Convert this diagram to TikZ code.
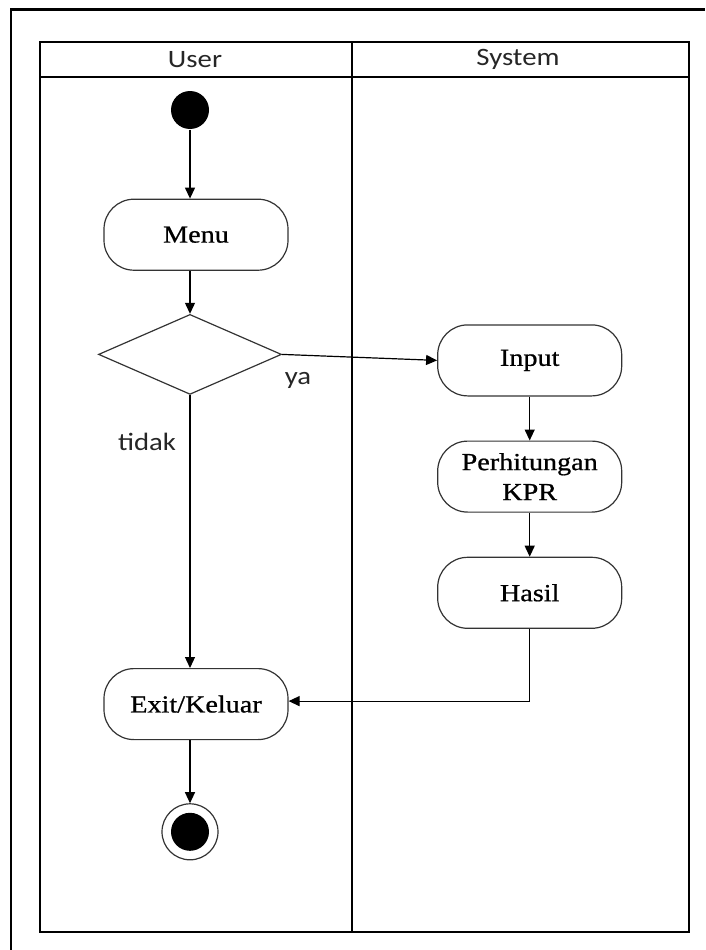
\documentclass[tikz,border=0pt]{standalone}
\usepackage{fontspec}
\setmainfont[FakeStretch=1.15,FakeBold=0.8]{Liberation Serif}
\newfontfamily\lanefont[FakeStretch=1.15]{Carlito}
\usepackage{tikz}
\usetikzlibrary{arrows.meta,positioning,shapes.geometric}

\begin{document}
\begin{tikzpicture}[x=1pt,y=-1pt,>={Triangle[length=11pt,width=10pt]},line width=1.2pt,
    act/.style={draw=black!80,rounded corners=30pt,minimum width=184pt,minimum height=71pt,align=center,font=\fontsize{24.5}{30}\selectfont},
    cond/.style={draw=black!80,diamond,minimum width=183pt,minimum height=80pt,inner sep=0pt},
    lane/.style={font=\lanefont\fontsize{25}{30}\selectfont,text=black!85},
    lbl/.style={font=\lanefont\fontsize{25}{30}\selectfont,text=black!85},
    dot/.style={circle,fill=black,minimum size=38pt,inner sep=0pt}]
        \useasboundingbox (0,0) rectangle (705,950);
        \draw[line width=2.5pt] (11,950) -- (11,9.5) -- (705,9.5);
        \draw[line width=1.5pt] (40,42) rectangle (689,932);
        \draw[line width=1.5pt] (40,77) -- (689,77);
        \draw[line width=1.5pt] (352,42) -- (352,932);
        \node[lane] (user) at (195,59.5) {User};
        \node[lane] (sys) at (518,59.5) {System};
        \node[dot] (start) at (190,110) {};
        \node[act,below=69pt of start,xshift=6pt] (menu) {Menu};
        \node[cond,below=43pt of menu,xshift=-6pt] (dec) {};
        \node[act,right=155pt of dec,yshift=-6pt] (inp) {Input};
        \node[act,below=44pt of inp] (per) {Perhitungan\\KPR};
        \node[act,below=44pt of per] (has) {Hasil};
        \node[act,below=273pt of dec,xshift=6pt] (ex) {Exit/Keluar};
        \node[draw=black!80,circle,minimum size=56pt,inner sep=0pt,below=63pt of ex,xshift=-6pt] (fin) {};
        \node[dot] (finin) at (fin) {};
        \node[lbl] (ya) at (298,380) {ya};
        \node[lbl] (tidak) at (147,442) {tidak};
        \draw[->] (start) -- (start |- menu.north);
        \draw[->] (menu.south -| dec) -- (dec.north);
        \draw[->] (dec.east) -- (inp.west);
        \draw[->] (inp) -- (per);
        \draw[->] (per) -- (has);
        \draw[->] (dec.south) -- (dec.south |- ex.north);
        \draw[->] (has.south) |- ([yshift=3pt]ex.east);
        \draw[->] (ex.south -| fin) -- (fin.north);
      \end{tikzpicture}
\end{document}
